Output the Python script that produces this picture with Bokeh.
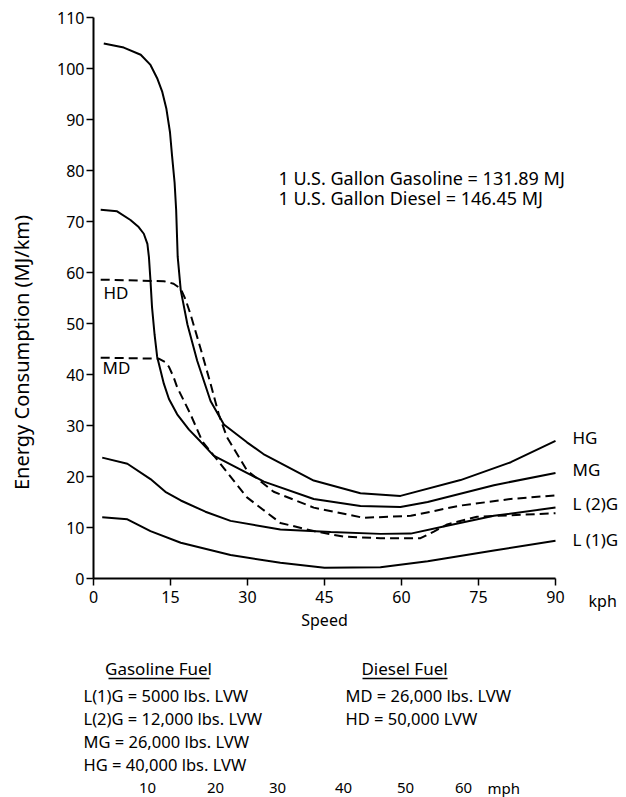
import numpy as np
from bokeh.plotting import figure
from bokeh.models import Label, Range1d, FixedTicker
from bokeh.core.properties import value
from bokeh.embed import file_html
from bokeh.resources import INLINE

# ---------------- data (speed in kph, energy in MJ/km) ----------------
speed_hg = [2.0, 5.9, 9.2, 11.1, 12.4, 13.4, 14.2, 14.9, 15.3, 15.8, 16.1, 16.4, 17.0, 18.3, 20.2,
            22.8, 25.4, 29.9, 33.1, 42.9, 52.0, 59.8, 71.5, 81.3, 90.0]
energy_hg = [104.9, 104.1, 102.7, 100.7, 98.1, 95.4, 92.1, 87.5, 82.9, 77.6, 72.3, 63.1, 56.5, 49.8, 42.7,
             34.8, 30.2, 26.7, 24.4, 19.2, 16.7, 16.2, 19.3, 22.8, 27.0]

speed_mg = [1.4, 4.6, 7.2, 8.8, 9.8, 10.5, 10.8, 11.1, 11.4, 11.9, 12.4, 13.7, 14.7, 16.3, 18.6, 20.8,
            23.4, 33.2, 42.9, 52.0, 59.8, 65.1, 78.0, 90.0]
energy_mg = [72.3, 72.0, 70.3, 68.9, 67.6, 65.6, 63.0, 58.4, 53.2, 47.8, 43.5, 38.2, 35.2, 32.2, 29.2, 26.9,
             24.1, 19.0, 15.6, 14.2, 14.0, 15.0, 18.3, 20.7]

speed_l2g = [1.7, 6.6, 11.1, 14.0, 17.0, 21.8, 26.7, 36.4, 46.2, 55.9, 61.8, 68.2, 78.0, 90.0]
energy_l2g = [23.7, 22.5, 19.5, 17.0, 15.3, 13.1, 11.3, 9.6, 9.1, 8.75, 8.8, 10.2, 12.3, 13.9]

speed_l1g = [1.7, 6.6, 11.1, 17.0, 26.7, 36.4, 45.0, 55.9, 65.1, 78.0, 90.0]
energy_l1g = [12.0, 11.6, 9.3, 7.0, 4.6, 3.1, 2.1, 2.2, 3.4, 5.5, 7.4]

speed_hd = [1.4, 13.7, 15.6, 17.0, 17.9, 18.9, 20.8, 22.8, 24.4, 26.0, 29.9, 35.1, 42.9, 52.6, 61.8,
            71.5, 81.3, 90.0]
energy_hd = [58.6, 58.3, 57.8, 56.8, 54.8, 51.8, 45.3, 38.2, 32.2, 27.7, 21.2, 17.0, 13.9, 11.9, 12.3,
             14.3, 15.6, 16.3]

speed_md = [1.4, 12.7, 14.0, 14.7, 15.6, 16.3, 18.9, 21.2, 24.7, 29.9, 36.4, 42.9, 48.7, 55.9, 63.7,
            66.3, 68.9, 74.7, 90.0]
energy_md = [43.3, 43.1, 42.4, 41.5, 39.5, 37.5, 32.2, 26.9, 22.5, 15.9, 10.9, 9.3, 8.2, 7.9, 7.9,
             9.2, 10.6, 12.1, 12.8]

x_ticks = [0, 15, 30, 45, 60, 75, 90]
y_ticks = [0, 10, 20, 30, 40, 50, 60, 70, 80, 90, 100, 110]
mph_labels = ["10", "20", "30", "40", "50", "60"]

gasoline_rows = ["L(1)G = 5000 lbs. LVW", "L(2)G = 12,000 lbs. LVW",
                 "MG = 26,000 lbs. LVW", "HG = 40,000 lbs. LVW"]
diesel_rows = ["MD = 26,000 lbs. LVW", "HD = 50,000 LVW"]
note_rows = ["1 U.S. Gallon Gasoline = 131.89 MJ", "1 U.S. Gallon Diesel = 146.45 MJ"]

# ---------------- layout ----------------
W, H = 626, 797
OFF = 0                   # page offset of the canvas
AX_L, AX_W = 93, 462      # x: 0 -> 93px, 90 -> 555px
AX_T, AX_H = 17, 561      # y: 110 -> 17px, 0 -> 578px
FONT = "Noto Sans"

def dx(px):   # page pixel -> speed units
    return (px - OFF - AX_L) / AX_W * 90.0

def dy(py):   # page pixel -> energy units
    return (AX_T + AX_H - (py - OFF)) / AX_H * 110.0

p = figure(width=W, height=H, output_backend="svg", toolbar_location=None,
           x_range=Range1d(dx(OFF), dx(OFF + W)), y_range=Range1d(dy(OFF + H), dy(OFF)),
           min_border_left=0, min_border_right=0, min_border_top=0, min_border_bottom=0)
p.outline_line_color = None
p.xgrid.visible = False
p.ygrid.visible = False
p.background_fill_color = "white"
p.border_fill_color = "white"

for ax in (p.xaxis[0], p.yaxis[0]):
    ax.fixed_location = 0
    ax.axis_line_width = 2
    ax.axis_line_color = "black"
    ax.major_tick_line_width = 1.5
    ax.major_tick_line_color = "black"
    ax.minor_tick_line_color = None
    ax.major_tick_in = 0
    ax.major_tick_out = 7
    ax.major_label_text_font = FONT
    ax.major_label_text_font_size = "16px"
    ax.major_label_text_color = "black"

p.xaxis.bounds = (0, 90)
p.yaxis.bounds = (0, 110)
p.xaxis.ticker = FixedTicker(ticks=x_ticks)
p.yaxis.ticker = FixedTicker(ticks=y_ticks)
p.xaxis.major_label_standoff = 5
p.yaxis.major_label_standoff = 2
p.xaxis.axis_label = "Speed"
p.xaxis.axis_label_text_font = FONT
p.xaxis.axis_label_text_font_style = "normal"
p.xaxis.axis_label_text_font_size = "16px"
p.xaxis.axis_label_text_color = "black"
p.xaxis.axis_label_standoff = 3

# ---------------- curves ----------------
LW = 2
DASH = "9 5"
p.line(speed_hg, energy_hg, line_color="black", line_width=LW)
p.line(speed_mg, energy_mg, line_color="black", line_width=LW)
p.line(speed_l2g, energy_l2g, line_color="black", line_width=LW)
p.line(speed_l1g, energy_l1g, line_color="black", line_width=LW)
p.line(speed_hd, energy_hd, line_color="black", line_width=LW, line_dash=DASH)
p.line(speed_md, energy_md, line_color="black", line_width=LW, line_dash=DASH)

def lab(x, y, text, size="17px", align="left", baseline="middle", angle=0.0):
    p.add_layout(Label(x=x, y=y, text=text, text_font=FONT, text_font_size=size,
                       text_align=align, text_baseline=baseline, angle=angle,
                       text_color="black"))

# curve labels
lab(dx(103), dy(292), "HD")
lab(dx(102), dy(367), "MD")
lab(dx(572), dy(437), "HG")
lab(dx(572), dy(469), "MG")
lab(dx(572), dy(503), "L (2)G")
lab(dx(572), dy(539), "L (1)G")
lab(dx(588), dy(600), "kph", size="16px")

# y axis title
lab(dx(21), dy(352), "Energy Consumption (MJ/km)", size="20px", align="center", angle=np.pi / 2)

# conversion notes
for i, t in enumerate(note_rows):
    lab(dx(278), dy(177 + 20 * i), t, size="18px")

# fuel legends
lab(dx(158), dy(668), "Gasoline Fuel", align="center")
lab(dx(404), dy(668), "Diesel Fuel", align="center")
p.segment(x0=[dx(108), dx(362)], y0=[dy(678)] * 2, x1=[dx(209), dx(447)], y1=[dy(678)] * 2,
          line_color="black", line_width=1.5)
for i, t in enumerate(gasoline_rows):
    lab(dx(83), dy(695 + 23 * i), t, size="16.5px")
for i, t in enumerate(diesel_rows):
    lab(dx(345), dy(695 + 23 * i), t, size="16.5px")

# mph scale row
for t, px in zip(mph_labels, [147, 215, 277, 343, 405, 463]):
    lab(dx(px), dy(787), t, size="15px", align="center")
lab(dx(487), dy(787), "mph", size="15px")

open("out.html", "w").write(file_html(p, INLINE))
